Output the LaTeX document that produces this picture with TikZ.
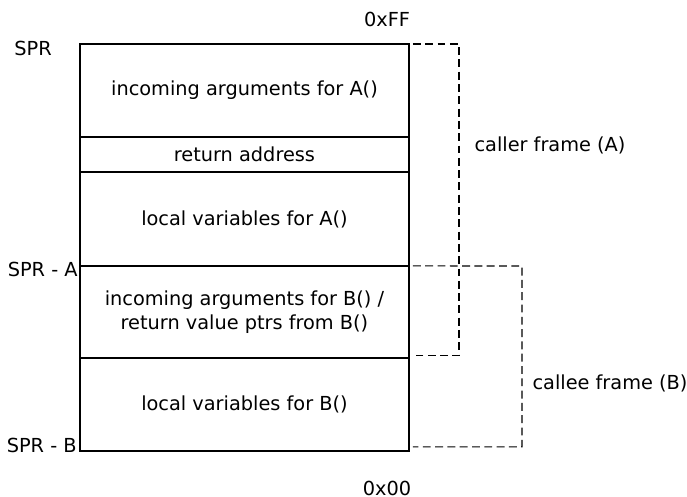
\documentclass[tikz,border=0pt]{standalone}
\usepackage{fontspec}
\setmainfont{DejaVu Sans}
\usetikzlibrary{positioning}

\tikzset{
    cell/.style={draw, line width=0.7pt, minimum width=6.58cm, outer sep=0pt,
        align=center, font=\fontsize{11}{13.5}\selectfont, inner sep=0pt},
    bracket/.style={draw, line width=0.6pt, dash pattern=on 4.5pt off 2.5pt},
    lbl/.style={font=\fontsize{11}{13}\selectfont, inner sep=0pt}
}

\begin{document}
\begin{tikzpicture}[x=0.02cm,y=-0.02cm]
            \useasboundingbox (0,0) rectangle (687,497);
            % stack of the two frames
            \node[cell, minimum height=1.86cm, anchor=north west] (argsA) at (80,44) {incoming arguments for A()};
            \node[cell, minimum height=0.70cm, below=0pt of argsA] (retaddr) {return address};
            \node[cell, minimum height=1.88cm, below=0pt of retaddr] (localsA) {local variables for A()};
            \node[cell, minimum height=1.84cm, below=0pt of localsA] (argsB) {incoming arguments for B() /\\return value ptrs from B()};
            \node[cell, minimum height=1.86cm, below=0pt of argsB] (localsB) {local variables for B()};
            % stack pointer and address labels
            \node[lbl] (spr) at (33,48) {SPR};
            \node[lbl, anchor=east] (sprA) at ([xshift=-0.04cm,yshift=-0.08cm]argsB.north west) {SPR - A};
            \node[lbl, anchor=east] (sprB) at ([xshift=-0.06cm,yshift=0.1cm]localsB.south west) {SPR - B};
            \node[lbl] (top) at (387,19) {0xFF};
            \node[lbl] (bottom) at (387,488) {0x00};
            % frame brackets
            \coordinate (callerR) at (459,44);
            \coordinate (calleeR) at (522,266);
            \draw[bracket] ([xshift=0.08cm]argsA.north east) -- (callerR) |- ([xshift=0.08cm,yshift=0.04cm]argsB.south east);
            \draw[bracket] ([xshift=0.08cm]argsB.north east) -- (calleeR) |- ([xshift=0.08cm,yshift=0.08cm]localsB.south east);
            \node[lbl] (caller) at (550,145) {caller frame (A)};
            \node[lbl] (callee) at (610,383) {callee frame (B)};
        \end{tikzpicture}
\end{document}
